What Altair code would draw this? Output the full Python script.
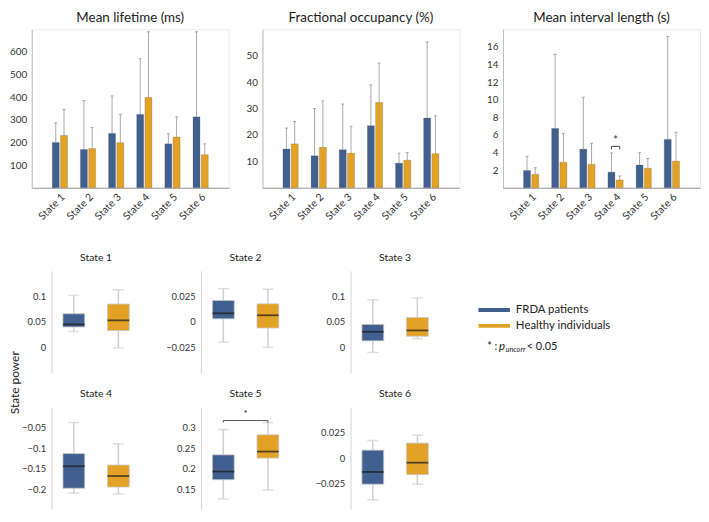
import altair as alt
import pandas as pd

FONT = "Lato"
BLUE = "#41608f"
ORANGE = "#e3a225"

states = ["State 1", "State 2", "State 3", "State 4", "State 5", "State 6"]
groups = ["FRDA patients", "Healthy individuals"]

# top row: mean and upper error bar end
lifetime_frda = [200, 169, 240, 324, 194, 313]
lifetime_frda_up = [287, 385, 406, 570, 239, 689]
lifetime_hc = [231, 173, 199, 399, 224, 146]
lifetime_hc_up = [346, 266, 324, 689, 313, 194]

occupancy_frda = [14.7, 12.1, 14.4, 23.5, 9.3, 26.4]
occupancy_frda_up = [22.6, 30.0, 31.7, 39.0, 13.1, 55.2]
occupancy_hc = [16.6, 15.3, 13.1, 32.3, 10.4, 12.9]
occupancy_hc_up = [25.1, 32.9, 23.3, 47.2, 13.3, 27.3]

interval_frda = [1.95, 6.74, 4.38, 1.77, 2.58, 5.49]
interval_frda_up = [3.57, 15.14, 10.28, 3.94, 3.98, 17.2]
interval_hc = [1.51, 2.91, 2.65, 0.88, 2.21, 3.02]
interval_hc_up = [2.28, 6.15, 5.05, 1.33, 3.32, 6.3]

# significance bracket (Mean interval length, State 4)
interval_sig_state = "State 4"
interval_sig_low = 4.35
interval_sig_high = 4.7
interval_sig_star = 4.75

# state power box stats: [min, q1, median, q3, max]
power_frda = {
    "State 1": [0.031, 0.040, 0.045, 0.066, 0.102],
    "State 2": [-0.020, 0.003, 0.0084, 0.021, 0.0326],
    "State 3": [-0.010, 0.0128, 0.0306, 0.045, 0.0935],
    "State 4": [-0.210, -0.198, -0.144, -0.113, -0.037],
    "State 5": [0.126, 0.173, 0.193, 0.234, 0.296],
    "State 6": [-0.0406, -0.0252, -0.0132, 0.0082, 0.0176],
}
power_hc = {
    "State 1": [-0.001, 0.033, 0.053, 0.085, 0.113],
    "State 2": [-0.025, -0.006, 0.0065, 0.0177, 0.032],
    "State 3": [0.0172, 0.0218, 0.0332, 0.0586, 0.0968],
    "State 4": [-0.212, -0.195, -0.168, -0.141, -0.089],
    "State 5": [0.148, 0.226, 0.242, 0.283, 0.313],
    "State 6": [-0.0252, -0.0158, -0.0041, 0.0151, 0.0229],
}
power_domain = {
    "State 1": [-0.05, 0.15], "State 2": [-0.05, 0.05], "State 3": [-0.05, 0.15],
    "State 4": [-0.25, 0.0], "State 5": [0.1, 0.35], "State 6": [-0.05, 0.05],
}
power_ticks = {
    "State 1": [0, 0.05, 0.1], "State 2": [-0.025, 0, 0.025], "State 3": [0, 0.05, 0.1],
    "State 4": [-0.2, -0.15, -0.1, -0.05], "State 5": [0.15, 0.2, 0.25, 0.3],
    "State 6": [-0.025, 0, 0.025],
}
# significance bracket (State power, State 5)
power_sig_state = "State 5"
power_sig_low = 0.313
power_sig_high = 0.318
power_sig_star = 0.322

power_label = "State power"
legend_note = ["* : ", "p", "uncorr", " < 0.05"]

color_scale = alt.Scale(domain=groups, range=[BLUE, ORANGE])
legend = alt.Legend(
    title=None, orient="none", legendX=451, legendY=277,
    symbolType="M-1,-0.12H1V0.12H-1Z", symbolSize=1024, symbolStrokeWidth=0,
    labelFont=FONT, labelFontSize=11.5, labelColor="#222", labelOffset=6,
    rowPadding=3, clipHeight=13, symbolOpacity=1,
)

TOPW, TOPH = 199, 160


def bar_panel(title, mf, uf, mh, uh, ymax, ticks, extent, sig=None):
    df = pd.DataFrame({
        "state": states * 2,
        "group": [groups[0]] * 6 + [groups[1]] * 6,
        "mean": mf + mh,
        "upper": uf + uh,
    })
    xenc = alt.X("state:N", sort=states,
                 scale=alt.Scale(paddingInner=0, paddingOuter=0.5),
                 axis=alt.Axis(title=None, labelAngle=-45, ticks=False, labelFont=FONT,
                               labelFontSize=10.5, labelColor="#333", domainColor="#9a9a9a",
                               labelPadding=4))
    xoff = alt.XOffset("group:N", sort=groups,
                       scale=alt.Scale(paddingInner=0.15, paddingOuter=0.78))
    yax = alt.Axis(title=None, values=ticks, ticks=False, grid=False, labelFont=FONT,
                   labelFontSize=10, labelColor="#333", domainColor="#bdbdbd",
                   labelPadding=5, minExtent=extent, maxExtent=extent, labelOverlap=False)
    yscale = alt.Scale(domain=[0, ymax], nice=False)
    base = alt.Chart(df).encode(x=xenc, xOffset=xoff)
    err = base.mark_rule(color="#a9a9a9", strokeWidth=1).encode(
        y=alt.Y("mean:Q", scale=yscale, axis=yax), y2="upper:Q")
    cap = base.mark_tick(color="#8a8a8a", size=3, thickness=1).encode(
        y=alt.Y("upper:Q", scale=yscale, axis=yax))
    bars = base.mark_bar(stroke="#555555", strokeWidth=0.4, strokeOpacity=0.6).encode(
        y=alt.Y("mean:Q", scale=yscale, axis=yax),
        color=alt.Color("group:N", scale=color_scale, legend=legend))
    layers = [err, cap, bars]
    if sig is not None:
        st, lo, hi, sv = sig
        br = pd.DataFrame({
            "state": [st] * 4,
            "group": [groups[0], groups[0], groups[1], groups[1]],
            "v": [lo, hi, hi, lo],
            "o": [0, 1, 2, 3],
        })
        layers.append(alt.Chart(br).mark_line(color="#444", strokeWidth=1).encode(
            x=xenc, xOffset=xoff, y=alt.Y("v:Q", scale=yscale, axis=yax), order="o:Q"))
        layers.append(alt.Chart(pd.DataFrame({"state": [st], "v": [sv], "t": ["*"]}))
                      .mark_text(font=FONT, fontSize=11, baseline="bottom", color="#333")
                      .encode(x=xenc, y=alt.Y("v:Q", scale=yscale, axis=yax), text="t:N"))
    return alt.layer(*layers).properties(
        width=TOPW, height=TOPH,
        title=alt.TitleParams(title, font=FONT, fontSize=13.5, fontWeight="normal",
                              color="#222", offset=5),
        view=alt.ViewBackground(stroke="#ececec"),
    )


p1 = bar_panel("Mean lifetime (ms)", lifetime_frda, lifetime_frda_up, lifetime_hc,
               lifetime_hc_up, 700, [100, 200, 300, 400, 500, 600], 22)
p2 = bar_panel("Fractional occupancy (%)", occupancy_frda, occupancy_frda_up, occupancy_hc,
               occupancy_hc_up, 60, [10, 20, 30, 40, 50], 32)
p3 = bar_panel("Mean interval length (s)", interval_frda, interval_frda_up, interval_hc,
               interval_hc_up, 18, [2, 4, 6, 8, 10, 12, 14, 16], 42,
               sig=(interval_sig_state, interval_sig_low, interval_sig_high, interval_sig_star))

BW, BH = 90, 103


def box_panel(state, extent):
    df = pd.DataFrame({
        "group": groups,
        "mn": [power_frda[state][0], power_hc[state][0]],
        "q1": [power_frda[state][1], power_hc[state][1]],
        "md": [power_frda[state][2], power_hc[state][2]],
        "q3": [power_frda[state][3], power_hc[state][3]],
        "mx": [power_frda[state][4], power_hc[state][4]],
    })
    xenc = alt.X("group:N", sort=groups, axis=None,
                 scale=alt.Scale(paddingInner=0, paddingOuter=0))
    yscale = alt.Scale(domain=power_domain[state], nice=False)
    yax = alt.Axis(title=None, values=power_ticks[state], format=".3~g", ticks=False,
                   grid=False, labelFont=FONT, labelFontSize=9.5, labelColor="#333",
                   domainColor="#d4d4d4", labelPadding=6, minExtent=extent,
                   maxExtent=extent, labelOverlap=False)
    base = alt.Chart(df).encode(x=xenc)
    whisk = base.mark_rule(color="#d0d0d0", strokeWidth=1.5).encode(
        y=alt.Y("mn:Q", scale=yscale, axis=yax), y2="mx:Q")
    capl = base.mark_tick(color="#d0d0d0", size=11, thickness=1.5).encode(
        y=alt.Y("mn:Q", scale=yscale, axis=yax))
    caph = base.mark_tick(color="#d0d0d0", size=11, thickness=1.5).encode(
        y=alt.Y("mx:Q", scale=yscale, axis=yax))
    box = base.mark_bar(size=22, stroke="#c8c8c8", strokeWidth=0.8).encode(
        y=alt.Y("q1:Q", scale=yscale, axis=yax), y2="q3:Q",
        color=alt.Color("group:N", scale=color_scale, legend=legend))
    med = base.mark_tick(color="#1a1a1a", size=22, thickness=1.8).encode(
        y=alt.Y("md:Q", scale=yscale, axis=yax))
    layers = [whisk, capl, caph, box, med]
    if state == power_sig_state:
        bk = pd.DataFrame({
            "group": [groups[0], groups[0], groups[1], groups[1]],
            "v": [power_sig_low, power_sig_high, power_sig_high, power_sig_low],
            "o": [0, 1, 2, 3],
        })
        layers.append(alt.Chart(bk).mark_line(color="#555", strokeWidth=1).encode(
            x=xenc, y=alt.Y("v:Q", scale=yscale, axis=yax), order="o:Q"))
        layers.append(alt.Chart(pd.DataFrame({"v": [power_sig_star], "t": ["*"]})).mark_text(
            font=FONT, fontSize=10, baseline="bottom", color="#333").encode(
            x=alt.value(BW / 2), y=alt.Y("v:Q", scale=yscale, axis=yax), text="t:N"))
    return alt.layer(*layers).properties(
        width=BW, height=BH,
        title=alt.TitleParams(state, font=FONT, fontSize=10.5, fontWeight="normal",
                              color="#222", offset=8),
        view=alt.ViewBackground(stroke="transparent"),
    )


E1 = 18
row1 = alt.hconcat(box_panel("State 1", E1), box_panel("State 2", 59),
                   box_panel("State 3", 59), spacing=0)
row2 = alt.hconcat(box_panel("State 4", E1), box_panel("State 5", 59),
                   box_panel("State 6", 59), spacing=0)
grid = alt.vconcat(row1, row2, spacing=15)

label = alt.Chart(pd.DataFrame({"t": [power_label]})).mark_text(
    angle=270, font=FONT, fontSize=12, color="#222", align="center",
    baseline="middle").encode(x=alt.value(-17), y=alt.value(113), text="t:N").properties(
    width=1, height=BH, view=alt.ViewBackground(stroke="transparent"))

NS = 11
note = alt.layer(
    alt.Chart(pd.DataFrame({"t": [legend_note[0]]})).mark_text(
        font=FONT, fontSize=NS, align="left", baseline="middle", color="#222").encode(
        x=alt.value(0), y=alt.value(77), text="t:N"),
    alt.Chart(pd.DataFrame({"t": [legend_note[1]]})).mark_text(
        font=FONT, fontSize=NS + 0.5, fontStyle="italic", align="left", baseline="middle",
        color="#222", dx=12).encode(x=alt.value(0), y=alt.value(77), text="t:N"),
    alt.Chart(pd.DataFrame({"t": [legend_note[2]]})).mark_text(
        font=FONT, fontSize=7.5, fontStyle="italic", align="left", baseline="middle",
        color="#222", dx=18.5, dy=3).encode(x=alt.value(0), y=alt.value(77), text="t:N"),
    alt.Chart(pd.DataFrame({"t": [legend_note[3]]})).mark_text(
        font=FONT, fontSize=NS, align="left", baseline="middle", color="#222",
        dx=40).encode(x=alt.value(0), y=alt.value(77), text="t:N"),
).properties(width=150, height=90, view=alt.ViewBackground(stroke="transparent"))

bottom = alt.hconcat(alt.hconcat(label, grid, spacing=-13), note, spacing=46)
top = alt.hconcat(p1, p2, p3, spacing=0)

chart = alt.vconcat(top, bottom, spacing=30).properties(
    padding=0).configure(font=FONT).configure_axis(labelOverlap=False)

chart.save("out.html", embed_options={"renderer": "svg", "actions": False})
